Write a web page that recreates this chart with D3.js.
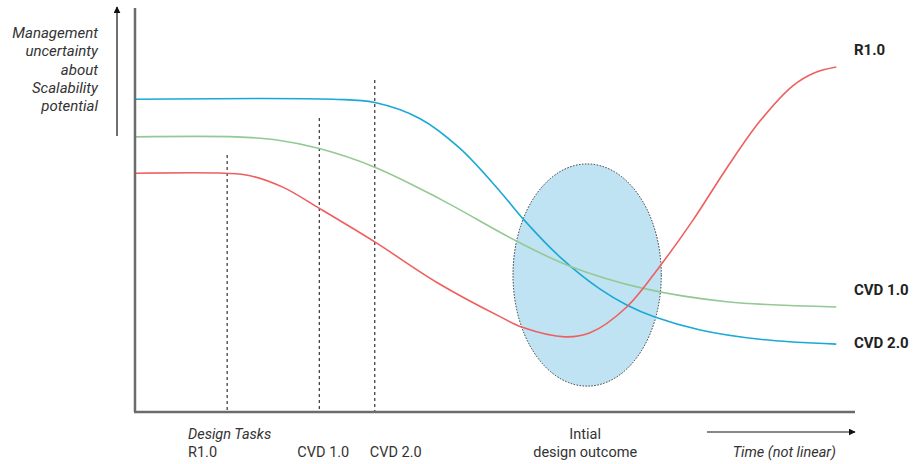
<!DOCTYPE html>
<html><head><meta charset="utf-8">
<script src="https://cdn.jsdelivr.net/npm/d3@7"></script>
<style>body{margin:0;background:#fff}svg{display:block;font-family:Roboto,"Noto Sans",sans-serif}</style>
</head><body><svg id="c" width="919" height="464"></svg>
<script>
// Data (abstract units: time 0-100, uncertainty 0-100)
const blueSeries = [[0,77.4],[27.5,77.4],[33.3,76.6],[39.6,72.6],[45.1,65.3],[50.7,54.6],[53.9,47.8],[59.0,38.4],[64.6,30.4],[68.3,26.5],[72.2,23.5],[78.5,20.3],[86.8,18.0],[97.4,16.8]];
const greenSeries = [[0,68.1],[14.0,68.1],[19.5,67.4],[25.6,65.2],[33.3,60.6],[42.4,52.7],[53.1,42.2],[60.4,36.1],[70.6,30.6],[82.2,27.3],[97.4,26.0]];
const redSeries = [[0,59.1],[12.5,59.1],[16.0,58.5],[20.6,55.6],[25.6,50.4],[33.3,42.1],[42.0,32.0],[50.7,23.6],[53.9,20.9],[59.7,18.6],[63.2,19.6],[68.3,26.0],[72.9,36.1],[77.5,47.5],[82.2,60.4],[86.8,72.0],[91.4,80.8],[94.4,84.0],[97.4,85.4]];
const seriesNames = ["CVD 2.0","CVD 1.0","R1.0"];
const seriesColors = ["#1aa9d6","#93c994","#ee5f5f"];
const taskNames = ["R1.0","CVD 1.0","CVD 2.0"];
const taskTimes = [12.8,25.6,33.3];
const taskTops = [63.6,72.8,82.2];
const outcome = {cx:62.8, cy:33.9, rx:10.3, ry:27.5};
const yLabelLines = ["Management","uncertainty","about","Scalability","potential"];

const svg = d3.select("#c");
const x = d3.scaleLinear().domain([0,100]).range([135,855]);
const y = d3.scaleLinear().domain([0,100]).range([412,8]);

// dashed task lines
svg.selectAll("line.task").data(taskTimes).join("line")
  .attr("x1",d=>x(d)).attr("x2",d=>x(d))
  .attr("y1",(d,i)=>y(taskTops[i])).attr("y2",y(0))
  .attr("stroke","#333").attr("stroke-width",1.2).attr("stroke-dasharray","3,3");

// outcome ellipse
svg.append("ellipse")
  .attr("cx",x(outcome.cx)).attr("cy",y(outcome.cy))
  .attr("rx",x(outcome.rx)-x(0)).attr("ry",y(0)-y(outcome.ry))
  .attr("fill","#bfe3f2").attr("stroke","#333").attr("stroke-width",1).attr("stroke-dasharray","1.5,1.5");

// curves
const line = d3.line().x(d=>x(d[0])).y(d=>y(d[1])).curve(d3.curveCatmullRom.alpha(0.5));
const all = [blueSeries, greenSeries, redSeries];
svg.selectAll("path.s").data(all).join("path")
  .attr("d",line).attr("fill","none")
  .attr("stroke",(d,i)=>seriesColors[i]).attr("stroke-width",1.6);

// axes
svg.append("line").attr("x1",x(0)).attr("x2",x(0)).attr("y1",y(100)).attr("y2",y(0))
  .attr("stroke","#6b6b6b").attr("stroke-width",2.5);
svg.append("line").attr("x1",x(0)-1).attr("x2",x(100)).attr("y1",y(0)).attr("y2",y(0))
  .attr("stroke","#6b6b6b").attr("stroke-width",2.5);

// arrows
const defs = svg.append("defs");
defs.append("marker").attr("id","ah").attr("viewBox","0 0 10 10").attr("refX",9).attr("refY",5)
  .attr("markerWidth",7).attr("markerHeight",7).attr("markerUnits","userSpaceOnUse").attr("orient","auto")
  .append("path").attr("d","M0,0L10,5L0,10Z").attr("fill","#111");
svg.append("line").attr("x1",117).attr("x2",117).attr("y1",136).attr("y2",7)
  .attr("stroke","#111").attr("stroke-width",1.2).attr("marker-end","url(#ah)");
svg.append("line").attr("x1",707).attr("x2",855).attr("y1",432).attr("y2",432)
  .attr("stroke","#111").attr("stroke-width",1.2).attr("marker-end","url(#ah)");

const fs = 15, fsb = 14.5;
// y label
svg.append("text").attr("text-anchor","end").attr("font-style","italic").attr("font-size",fs).attr("fill","#333")
  .selectAll("tspan").data(yLabelLines).join("tspan")
  .attr("x",98).attr("y",(d,i)=>38+i*18.3).text(d=>d);

// series labels on right
const labelY = [348,295,55];
svg.selectAll("text.sl").data(seriesNames).join("text")
  .attr("x",854).attr("y",(d,i)=>labelY[i]).attr("font-weight","bold").attr("font-size",fs).attr("fill","#222")
  .text(d=>d);

// bottom labels
const dt = svg.append("text").attr("font-size",fsb).attr("fill","#333");
dt.append("tspan").attr("x",188).attr("y",439).attr("font-style","italic").text("Design Tasks");
dt.append("tspan").attr("x",188).attr("y",457).text(taskNames[0]);
svg.append("text").attr("x",x(taskTimes[1])+4).attr("y",457).attr("text-anchor","middle").attr("font-size",fsb).attr("fill","#333").text(taskNames[1]);
svg.append("text").attr("x",x(taskTimes[2])+21).attr("y",457).attr("text-anchor","middle").attr("font-size",fsb).attr("fill","#333").text(taskNames[2]);
const io = svg.append("text").attr("text-anchor","middle").attr("font-size",fsb).attr("fill","#333");
io.append("tspan").attr("x",x(outcome.cx)-2).attr("y",439).text("Intial");
io.append("tspan").attr("x",x(outcome.cx)-2).attr("y",457).text("design outcome");
svg.append("text").attr("x",836).attr("y",457).attr("text-anchor","end").attr("font-style","italic").attr("font-size",fsb).attr("fill","#333").text("Time (not linear)");
</script></body></html>
